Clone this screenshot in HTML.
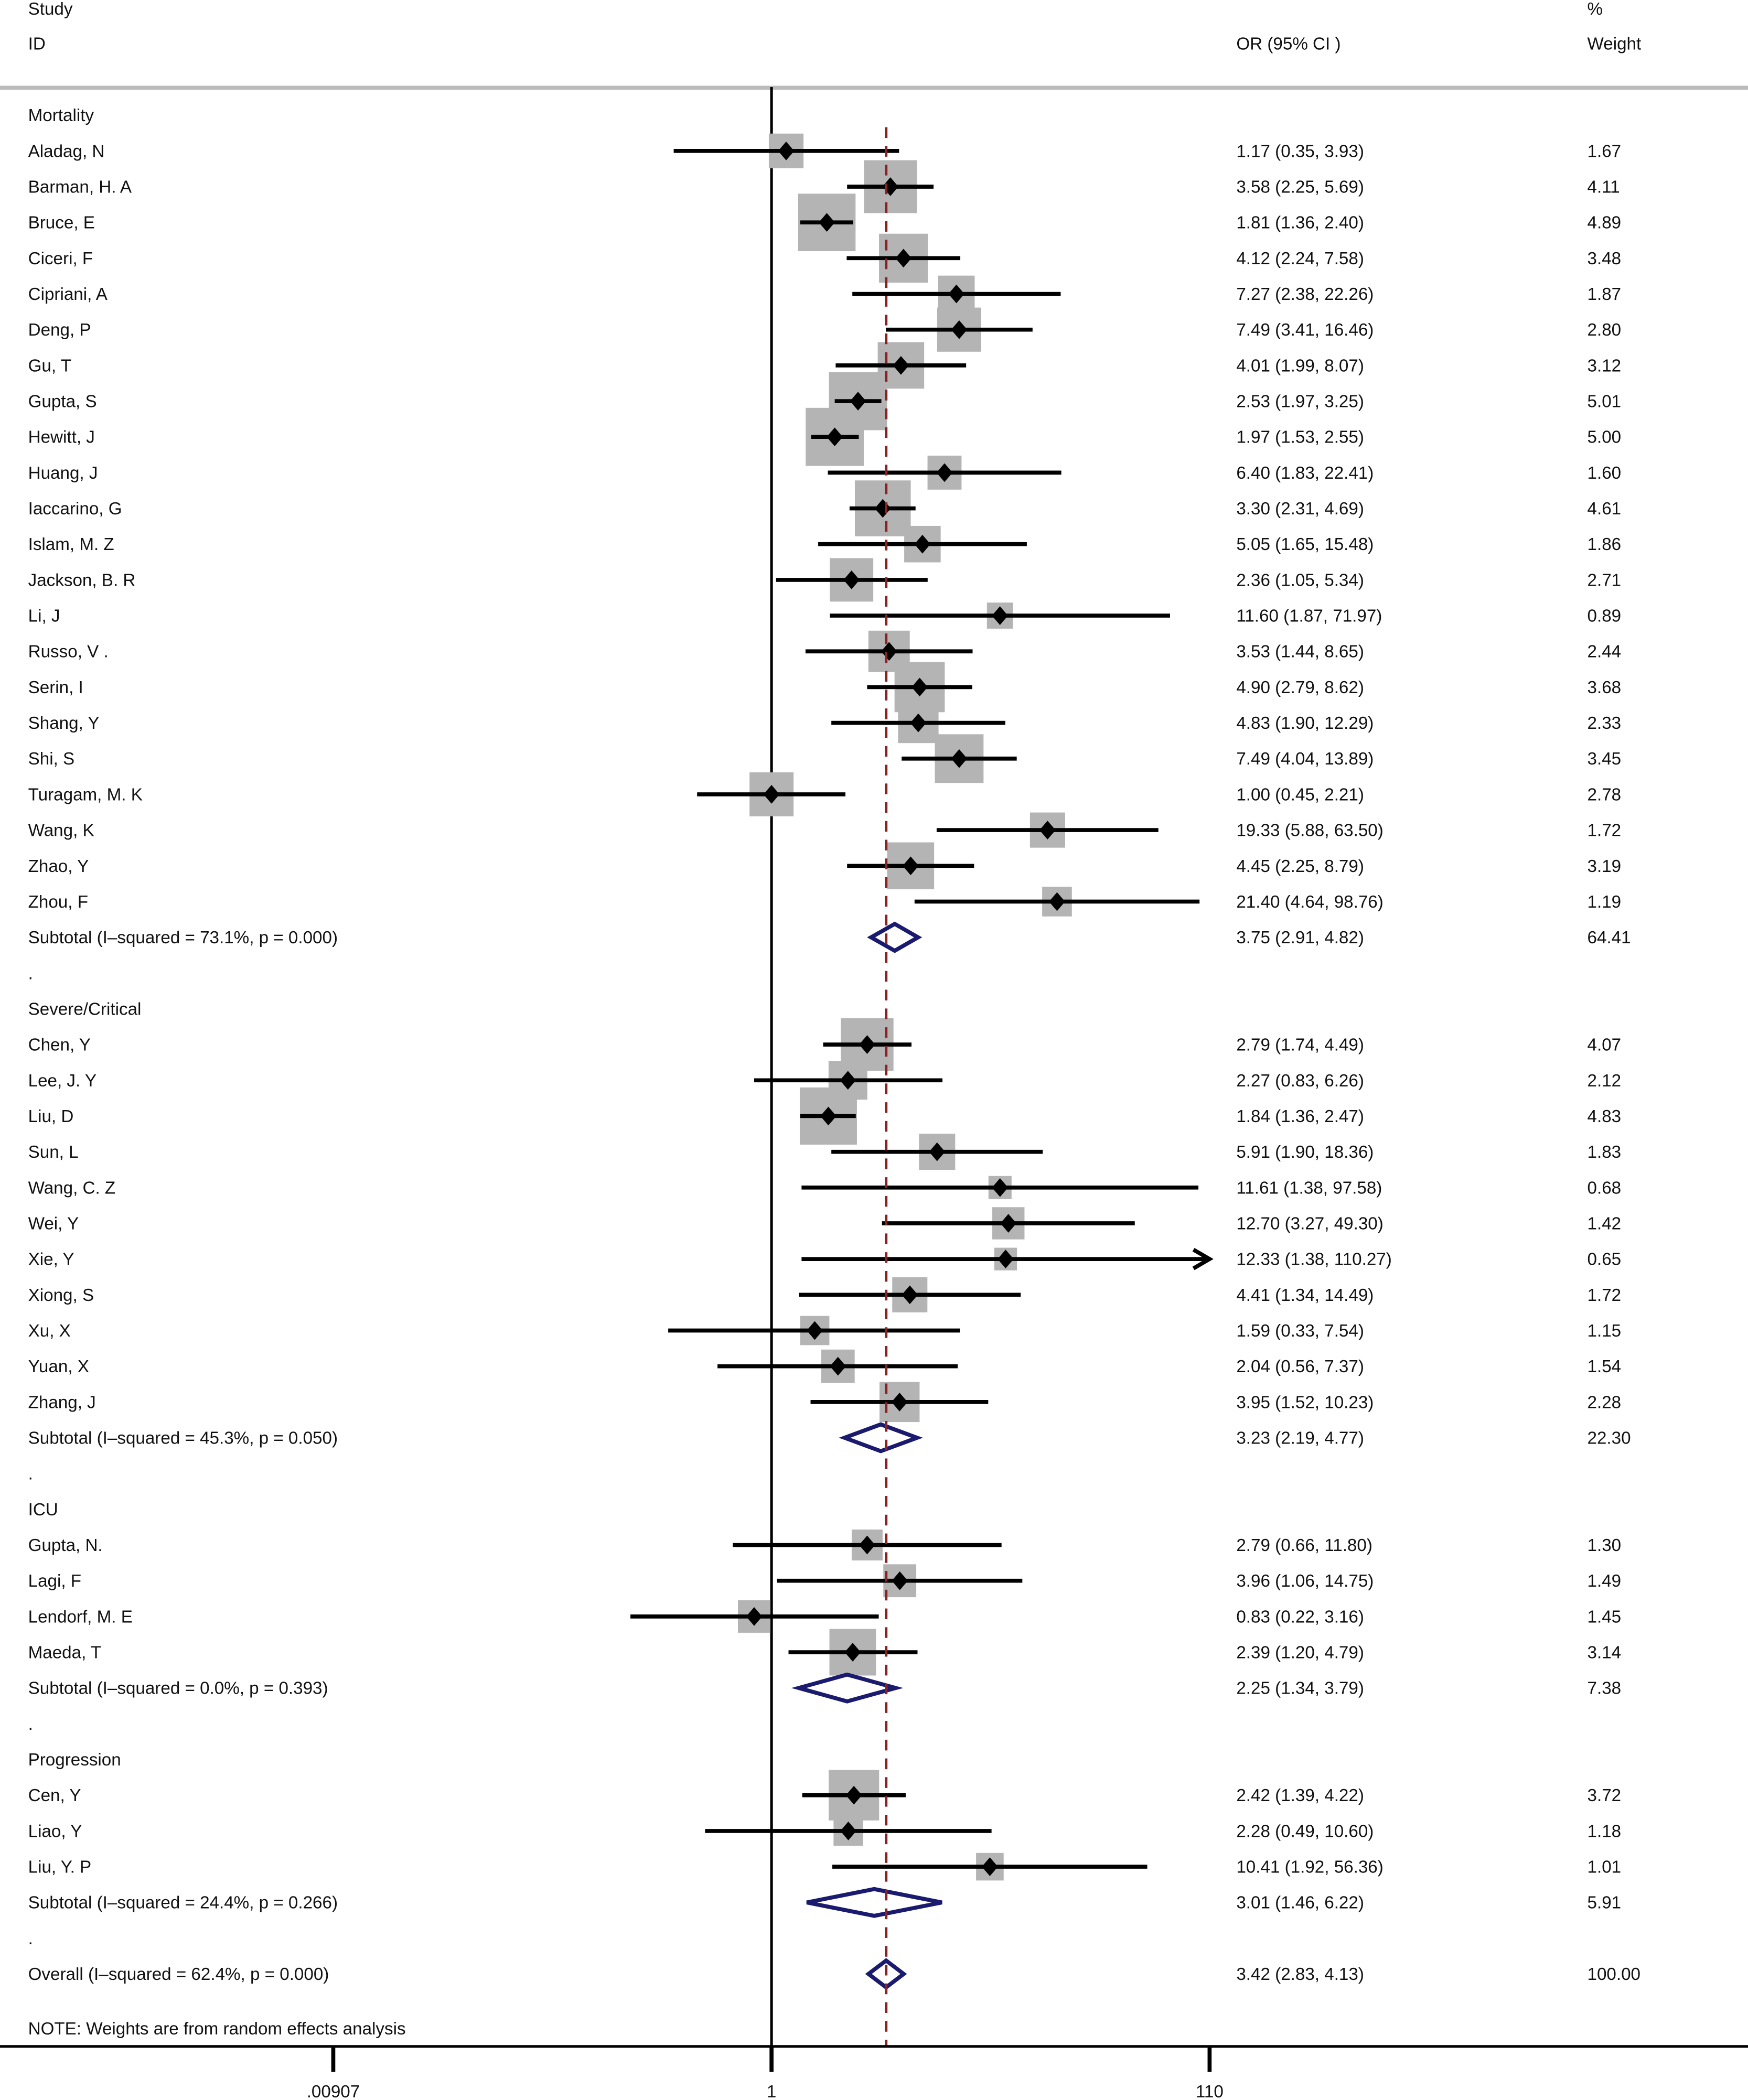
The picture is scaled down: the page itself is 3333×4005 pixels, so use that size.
<!DOCTYPE html>
<html><head><meta charset="utf-8"><style>
html,body{margin:0;padding:0;background:#fff;}
svg{display:block;}
text{font-family:"Liberation Sans","DejaVu Sans",sans-serif;font-size:13px;fill:#111;}
</style></head><body>
<svg id="chart" xmlns="http://www.w3.org/2000/svg" width="3333" height="4005" viewBox="0 0 1305 1568" preserveAspectRatio="none">
<text x="21" y="11">Study</text>
<text x="21" y="37">ID</text>
<text x="923" y="37">OR (95% CI )</text>
<text x="1185" y="11">%</text>
<text x="1185" y="37">Weight</text>
<line x1="0" y1="65.5" x2="1305" y2="65.5" stroke="#bbb" stroke-width="3"/>
<g id="plot"></g>
</svg>
<script>
const rowLabels = ["Mortality","Aladag, N","Barman, H. A","Bruce, E","Ciceri, F","Cipriani, A","Deng, P","Gu, T","Gupta, S","Hewitt, J","Huang, J","Iaccarino, G","Islam, M. Z","Jackson, B. R","Li, J","Russo, V .","Serin, I","Shang, Y","Shi, S","Turagam, M. K","Wang, K","Zhao, Y","Zhou, F","Subtotal  (I\u2013squared = 73.1%, p = 0.000)",".","Severe/Critical","Chen, Y","Lee, J. Y","Liu, D","Sun, L","Wang, C. Z","Wei, Y","Xie, Y","Xiong, S","Xu, X","Yuan, X","Zhang, J","Subtotal  (I\u2013squared = 45.3%, p = 0.050)",".","ICU","Gupta, N.","Lagi, F","Lendorf, M. E","Maeda, T","Subtotal  (I\u2013squared = 0.0%, p = 0.393)",".","Progression","Cen, Y","Liao, Y","Liu, Y. P","Subtotal  (I\u2013squared = 24.4%, p = 0.266)",".","Overall  (I\u2013squared = 62.4%, p = 0.000)"];
const rowTypes = "h"+"s".repeat(22)+"td"+"h"+"s".repeat(11)+"td"+"h"+"s".repeat(4)+"td"+"h"+"s".repeat(3)+"td"+"o";
const orVals = [null,1.17,3.58,1.81,4.12,7.27,7.49,4.01,2.53,1.97,6.40,3.30,5.05,2.36,11.60,3.53,4.90,4.83,7.49,1.00,19.33,4.45,21.40,3.75,null,null,2.79,2.27,1.84,5.91,11.61,12.70,12.33,4.41,1.59,2.04,3.95,3.23,null,null,2.79,3.96,0.83,2.39,2.25,null,null,2.42,2.28,10.41,3.01,null,3.42];
const lowVals = [null,0.35,2.25,1.36,2.24,2.38,3.41,1.99,1.97,1.53,1.83,2.31,1.65,1.05,1.87,1.44,2.79,1.90,4.04,0.45,5.88,2.25,4.64,2.91,null,null,1.74,0.83,1.36,1.90,1.38,3.27,1.38,1.34,0.33,0.56,1.52,2.19,null,null,0.66,1.06,0.22,1.20,1.34,null,null,1.39,0.49,1.92,1.46,null,2.83];
const highVals = [null,3.93,5.69,2.40,7.58,22.26,16.46,8.07,3.25,2.55,22.41,4.69,15.48,5.34,71.97,8.65,8.62,12.29,13.89,2.21,63.50,8.79,98.76,4.82,null,null,4.49,6.26,2.47,18.36,97.58,49.30,110.27,14.49,7.54,7.37,10.23,4.77,null,null,11.80,14.75,3.16,4.79,3.79,null,null,4.22,10.60,56.36,6.22,null,4.13];
const weights = [null,1.67,4.11,4.89,3.48,1.87,2.80,3.12,5.01,5.00,1.60,4.61,1.86,2.71,0.89,2.44,3.68,2.33,3.45,2.78,1.72,3.19,1.19,64.41,null,null,4.07,2.12,4.83,1.83,0.68,1.42,0.65,1.72,1.15,1.54,2.28,22.30,null,null,1.30,1.49,1.45,3.14,7.38,null,null,3.72,1.18,1.01,5.91,null,100.00];
const tickVals = [0.00907, 1, 110];
const tickLabels = [".00907","1","110"];
const pooledOR = 3.42;

const NS="http://www.w3.org/2000/svg";
const g=document.getElementById('plot');
const X=v=>576+Math.log10(v)*160.2;
const Y=i=>86+i*26.69;
const xMax=903;
function mk(tag,attrs,parent){const e=document.createElementNS(NS,tag);for(const k in attrs)e.setAttribute(k,attrs[k]);(parent||g).appendChild(e);return e;}
function fmt(v){return v.toFixed(2);}

const nl=mk('line',{x1:576,y1:65,x2:576,y2:1528,stroke:'#000','stroke-width':2});


const boxes=mk('g',{});
const marks=mk('g',{});
const pl=mk('line',{x1:X(pooledOR),y1:95,x2:X(pooledOR),y2:1528,stroke:'#8b2323','stroke-width':2,'stroke-dasharray':'8,6'});



rowLabels.forEach((lab,i)=>{
  const y=Y(i), t=rowTypes[i];
  const tx=mk('text',{x:21,y:y+4.5});
  tx.textContent=lab;
  
  
  if(orVals[i]==null) return;
  const ci=mk('text',{x:923,y:y+4.5});
  ci.textContent=fmt(orVals[i])+" ("+fmt(lowVals[i])+", "+fmt(highVals[i])+")";
  
  
  const wt=mk('text',{x:1185,y:y+4.5});
  wt.textContent=fmt(weights[i]);
  
  
  if(t==='s'){
    const s=18.5*Math.sqrt(weights[i])+2;
    const b=mk('rect',{x:X(orVals[i])-s/2,y:y-s/2,width:s,height:s,fill:'#b4b4b4'},boxes);
    
    
    const hx=Math.min(X(highVals[i]),xMax);
    const l=mk('line',{x1:X(lowVals[i]),y1:y,x2:hx,y2:y,stroke:'#000','stroke-width':3},marks);
    
    
    if(X(highVals[i])>xMax){
      const a=mk('path',{d:`M${xMax-12},${y-7} L${xMax},${y} L${xMax-12},${y+7}`,fill:'none',stroke:'#000','stroke-width':3},marks);
      
      
    }
    const cx=X(orVals[i]);
    const d=mk('path',{d:`M${cx-6},${y} L${cx},${y-7} L${cx+6},${y} L${cx},${y+7}Z`,fill:'#000'},marks);
    
    
  } else {
    const lx=X(lowVals[i]),hx=X(highVals[i]),cx=X(orVals[i]);
    const d=mk('path',{d:`M${lx},${y} L${cx},${y-10} L${hx},${y} L${cx},${y+10}Z`,fill:'none',stroke:'#1a1a6e','stroke-width':3},marks);
    
    
  }
});

const note=mk('text',{x:21,y:1519});
note.textContent="NOTE: Weights are from random effects analysis";


const ax=mk('line',{x1:0,y1:1528,x2:1305,y2:1528,stroke:'#000','stroke-width':2});


tickVals.forEach((v,k)=>{
  const tk=mk('line',{x1:X(v),y1:1528,x2:X(v),y2:1547,stroke:'#000','stroke-width':3});
  
  
  const tl=mk('text',{x:X(v),y:1566,'text-anchor':'middle'});
  tl.textContent=tickLabels[k];
  
  
});
</script>
</body></html>
